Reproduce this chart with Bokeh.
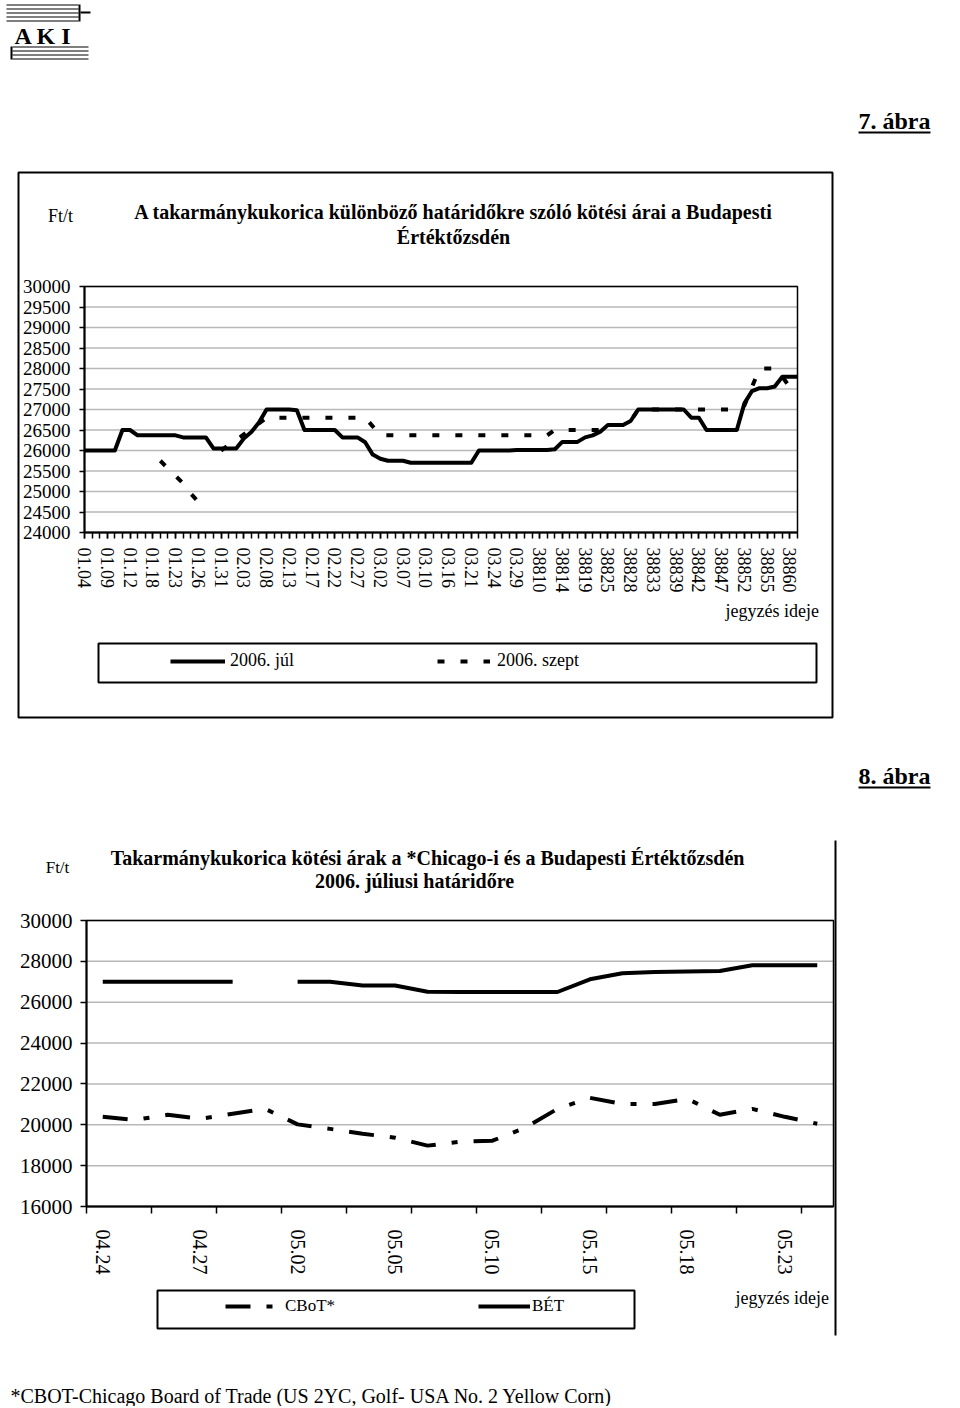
import numpy as np
from bokeh.plotting import figure
from bokeh.models import (Range1d, FixedTicker, Label, Legend, LegendItem, LinearAxis)
from bokeh.embed import file_html
from bokeh.resources import INLINE

nan = np.nan
SERIF = "Liberation Serif"

# ---------------- chart "7. ábra" data ----------------
tick_labels_1 = ["01.04", "01.09", "01.12", "01.18", "01.23", "01.26", "01.31", "02.03",
                 "02.08", "02.13", "02.17", "02.22", "02.27", "03.02", "03.07", "03.10",
                 "03.16", "03.21", "03.24", "03.29", "38810", "38814", "38819", "38825",
                 "38828", "38833", "38839", "38842", "38847", "38852", "38855", "38860"]
label_step_1 = 3

jul_2006 = ([26000] * 5 + [26500] * 2 + [26370] * 6 + [26320] * 4 + [26050] * 4 +
            [26290, 26450, 26680] + [27000] * 4 + [26980] + [26500] * 5 + [26320] * 3 +
            [26200, 25900, 25800] + [25750] * 3 + [25700] * 9 + [26000] * 5 + [26010] * 5 +
            [26030] + [26210] * 3 + [26320, 26370, 26460] + [26620] * 3 + [26720] +
            [27000] * 7 + [26800] * 2 + [26500] * 5 + [27150, 27450, 27520, 27520, 27560] +
            [27800] * 3)

szept_2006 = ([nan] * 10 + [25750, 25560, 25380, 25200, 24950, 24750] + [nan] * 2 +
              [26000, 26130, 26260, 26390, 26520, 26660] + [26800] * 14 + [26590] +
              [26370] * 23 + [26500] * 7 + [26620] * 3 + [26720] + [27000] * 14 +
              [27100, 27550] + [28000] * 3 + [27800, 27540, nan])

y_ticks_1 = list(range(24000, 30001, 500))

# ---------------- chart "8. ábra" data ----------------
tick_labels_2 = ["04.24", "04.27", "05.02", "05.05", "05.10", "05.15", "05.18", "05.23"]
label_step_2 = 3

bet = [27000, 27000, 27000, 27000, 27000, nan, 27000, 27000, 26820, 26820, 26510, 26500,
       26500, 26500, 26500, 27120, 27420, 27480, 27500, 27530, 27810, 27810, 27810]
cbot = [20390, 20240, 20490, 20290, 20540, 20780, 20020, 19800, 19560, 19370, 18980, 19170,
        19220, 19850, 20780, 21320, 21020, 21020, 21270, 20490, 20780, 20390, 20050]

y_ticks_2 = list(range(16000, 30001, 2000))

# ---------------- page geometry (pixels from page top-left) ----------------
W, H = 958, 1406
A1 = dict(L=84, R=797, T=286, B=532)     # plot area of chart 1
A2 = dict(L=86, R=833, T=920, B=1206)    # plot area of chart 2

p = figure(width=W, height=H, x_range=Range1d(0, W), y_range=Range1d(H, 0),
           x_axis_type=None, y_axis_type=None, output_backend="svg",
           toolbar_location=None, min_border=0)
p.outline_line_color = None
p.background_fill_color = "white"
p.border_fill_color = "white"


def lin_range(d0, d1, p0, p1, total):
    """Range over page pixels 0..total that maps data d0 to pixel p0 and d1 to pixel p1."""
    k = (d1 - d0) / (p1 - p0)
    a = d0 + (0 - p0) * k
    b = d0 + (total - p0) * k
    return Range1d(a, b) if a < b else Range1d(b, a)


def lin_range_y(d0, d1, p0, p1):
    k = (d1 - d0) / (p1 - p0)
    return Range1d(d0 + (H - p0) * k, d0 + (0 - p0) * k)


n1 = len(jul_2006)
n2 = len(bet)
x1_lo, x1_hi = 0, n1 - 1
x2_lo, x2_hi = -0.5, n2 - 0.5
y1_lo, y1_hi = y_ticks_1[0], y_ticks_1[-1]
y2_lo, y2_hi = y_ticks_2[0], y_ticks_2[-1]

p.extra_x_ranges = {"x1": lin_range(x1_lo, x1_hi, A1["L"], A1["R"], W),
                    "x2": lin_range(x2_lo, x2_hi, A2["L"], A2["R"], W)}
p.extra_y_ranges = {"y1": lin_range_y(y1_lo, y1_hi, A1["B"], A1["T"]),
                    "y2": lin_range_y(y2_lo, y2_hi, A2["B"], A2["T"])}

GRID = "#b8b8b8"


def chart_frame(xr, yr, x_lo, x_hi, y_ticks):
    n = len(y_ticks)
    p.segment(x0=[x_lo] * n, x1=[x_hi] * n, y0=y_ticks, y1=y_ticks, line_color=GRID,
              line_width=1.5, x_range_name=xr, y_range_name=yr)
    p.quad(left=x_lo, right=x_hi, bottom=y_ticks[0], top=y_ticks[-1], fill_color=None,
           line_color="black", line_width=1.5, x_range_name=xr, y_range_name=yr)


def style_axis(ax, size):
    ax.axis_line_color = "black"
    ax.axis_line_width = 2
    ax.major_tick_line_color = "black"
    ax.minor_tick_line_color = "black"
    ax.major_tick_line_width = 1.5
    ax.minor_tick_line_width = 1.5
    ax.major_tick_in = 0
    ax.minor_tick_in = 0
    ax.major_label_text_font = SERIF
    ax.major_label_text_color = "black"
    ax.major_label_text_font_size = f"{size}px"


# ================= chart 1 =================
chart_frame("x1", "y1", x1_lo, x1_hi, y_ticks_1)
xs1 = np.arange(n1)
r_jul = p.line(xs1, jul_2006, line_color="black", line_width=4, line_join="round",
               x_range_name="x1", y_range_name="y1")
r_sze = p.line(xs1, szept_2006, line_color="black", line_width=4, line_dash="7 16",
               line_cap="butt", x_range_name="x1", y_range_name="y1")

label_pos_1 = [i * label_step_1 for i in range(len(tick_labels_1))]
ax1 = LinearAxis(x_range_name="x1", y_range_name="y1", fixed_location=y1_lo,
                 bounds=(x1_lo, x1_hi),
                 ticker=FixedTicker(ticks=label_pos_1, minor_ticks=list(range(n1))))
style_axis(ax1, 18)
ax1.major_label_overrides = {pos: lab for pos, lab in zip(label_pos_1, tick_labels_1)}
ax1.major_label_orientation = "vertical"
ax1.major_tick_out = 6
ax1.minor_tick_out = 6
ax1.major_label_standoff = 9
p.add_layout(ax1, "below")

ay1 = LinearAxis(x_range_name="x1", y_range_name="y1", fixed_location=x1_lo,
                 bounds=(y1_lo, y1_hi), ticker=FixedTicker(ticks=y_ticks_1))
style_axis(ay1, 19)
ay1.major_tick_out = 5
ay1.minor_tick_out = 0
ay1.major_label_standoff = 9
p.add_layout(ay1, "left")

# ================= chart 2 =================
chart_frame("x2", "y2", x2_lo, x2_hi, y_ticks_2)
xs2 = np.arange(n2)
r_cbot = p.line(xs2, cbot, line_color="black", line_width=4, line_dash="25 16 6 16",
                line_cap="butt", x_range_name="x2", y_range_name="y2")
r_bet = p.line(xs2, bet, line_color="black", line_width=4, line_join="round",
               x_range_name="x2", y_range_name="y2")

label_pos_2 = [i * label_step_2 for i in range(len(tick_labels_2))]
ax2 = LinearAxis(x_range_name="x2", y_range_name="y2", fixed_location=y2_lo,
                 bounds=(x2_lo, x2_hi),
                 ticker=FixedTicker(ticks=label_pos_2,
                                    minor_ticks=[k - 0.5 for k in range(0, n2, 2)]))
style_axis(ax2, 20)
ax2.major_label_overrides = {pos: lab for pos, lab in zip(label_pos_2, tick_labels_2)}
ax2.major_label_orientation = "vertical"
ax2.major_tick_out = 0
ax2.minor_tick_out = 7
ax2.major_label_standoff = 16
p.add_layout(ax2, "below")

ay2 = LinearAxis(x_range_name="x2", y_range_name="y2", fixed_location=x2_lo,
                 bounds=(y2_lo, y2_hi), ticker=FixedTicker(ticks=y_ticks_2))
style_axis(ay2, 21)
ay2.major_tick_out = 6
ay2.minor_tick_out = 0
ay2.major_label_standoff = 8
p.add_layout(ay2, "left")


# ================= page decorations (page pixel coordinates) =================
def text(X, Y, s, size, bold=False, align="left"):
    p.add_layout(Label(x=X, y=Y, text=s, text_font=SERIF, text_font_size=f"{size}px",
                       text_font_style="bold" if bold else "normal", text_color="black",
                       text_baseline="middle", text_align=align))


def frame_box(X0, Y0, X1, Y1, lw=2):
    p.quad(left=X0, right=X1, top=Y0, bottom=Y1, fill_color=None, line_color="black",
           line_width=lw)


def bar(X0, Y0, X1, Y1):
    p.quad(left=X0, right=X1, top=Y0, bottom=Y1, fill_color="black", line_color=None)


def legend(renderer, label, X_glyph, Y_center, glyph_w, standoff, size):
    leg = Legend(items=[LegendItem(label=label, renderers=[renderer])],
                 location=(X_glyph, H - (Y_center + 10)), orientation="horizontal",
                 glyph_width=glyph_w, glyph_height=20, label_height=20,
                 label_standoff=standoff, padding=0, margin=0, spacing=0,
                 border_line_alpha=0, background_fill_alpha=0,
                 label_text_font=SERIF, label_text_font_size=f"{size}px",
                 label_text_color="black")
    p.add_layout(leg, "center")


# logo
for yy in (4, 8, 12, 16, 20):
    bar(6, yy, 78, yy + 1)
bar(78, 4, 80, 21)
bar(80, 11, 90, 13)
for yy in (46, 50, 54, 58):
    bar(12, yy, 88, yy + 1)
bar(10, 46, 12, 59)
text(14, 35, "A K I", 24, bold=True)

# chart 1 decorations
text(858, 120, "7. ábra", 24, bold=True)
bar(858, 131, 930, 133)
frame_box(18, 172, 832, 717)
text(60, 215, "Ft/t", 18, align="center")
text(453, 211, "A takarmánykukorica különböző határidőkre szóló kötési árai a Budapesti",
     20, bold=True, align="center")
text(453, 236, "Értéktőzsdén", 20, bold=True, align="center")
text(725, 610, "jegyzés ideje", 18)
frame_box(98, 643, 816, 682)
legend(r_jul, "2006. júl", 170, 661, 55, 5, 18)
legend(r_sze, "2006. szept", 437, 661, 53, 7, 18)

# chart 2 decorations
text(858, 775, "8. ábra", 24, bold=True)
bar(858, 786, 930, 788)
text(57, 867, "Ft/t", 17, align="center")
text(427, 857, "Takarmánykukorica kötési árak a *Chicago-i és a Budapesti Értéktőzsdén",
     20, bold=True, align="center")
text(414, 880, "2006. júliusi határidőre", 20, bold=True, align="center")
bar(834, 840, 836, 1335)
text(735, 1297, "jegyzés ideje", 18)
frame_box(157, 1290, 634, 1328)
legend(r_cbot, "CBoT*", 225, 1306, 50, 10, 17)
legend(r_bet, "BÉT", 478, 1306, 52, 2, 17)

text(10, 1395, "*CBOT-Chicago Board of Trade (US 2YC, Golf- USA No. 2 Yellow Corn)", 20)

open("out.html", "w").write(file_html(p, INLINE))
